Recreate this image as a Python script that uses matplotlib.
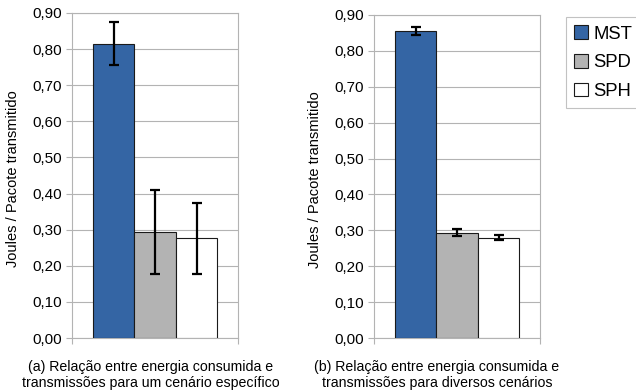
import numpy as np
import matplotlib
matplotlib.use("Agg")
import matplotlib.pyplot as plt
from matplotlib.patches import Patch

plt.rcParams['font.family'] = ['Liberation Sans', 'DejaVu Sans']

methods = ['MST', 'SPD', 'SPH']
colors = ['#3465a4', '#b3b3b3', '#ffffff']

# energia por pacote, cenario especifico
mean_a = [0.815, 0.294, 0.276]
err_a = [0.060, 0.117, 0.099]
# energia por pacote, diversos cenarios
mean_b = [0.855, 0.293, 0.280]
err_b = [0.012, 0.010, 0.006]

yticks = [0.0, 0.1, 0.2, 0.3, 0.4, 0.5, 0.6, 0.7, 0.8, 0.9]
ylabel = 'Joules / Pacote transmitido'
captions = ['(a) Relação entre energia consumida e\ntransmissões para um cenário específico',
            '(b) Relação entre energia consumida e\ntransmissões para diversos cenários']

W, H = 636, 392
fig = plt.figure(figsize=(W / 100, H / 100), dpi=100)
grid = '#b3b3b3'


def draw_panel(ax, means, errs):
    x = np.arange(1, len(means) + 1)
    ax.bar(x, means, width=1.0, color=colors, edgecolor='#1a1a1a', linewidth=0.8, zorder=3)
    ax.errorbar(x, means, yerr=errs, fmt='none', ecolor='black', elinewidth=1.6,
                capsize=3.3, capthick=1.6, zorder=4)
    ax.set_xlim(0, 4)
    ax.set_ylim(0, 0.9)
    ax.set_yticks(yticks)
    ax.yaxis.set_major_formatter(plt.FuncFormatter(lambda v, p: ('%.2f' % v).replace('.', ',')))
    ax.set_xticks([0, 4])
    ax.set_xticklabels([])
    ax.grid(axis='y', color=grid, linewidth=0.8, zorder=0)
    for s in ax.spines.values():
        s.set_color(grid)
        s.set_linewidth(0.8)
    ax.tick_params(axis='y', direction='out', length=4.5, color=grid, labelsize=11, pad=2.5)
    ax.tick_params(axis='x', direction='out', length=4.5, color=grid)
    ax.set_ylabel(ylabel, fontsize=10.5)
    ax.yaxis.set_label_coords(-0.315, 0.49)


ax1 = fig.add_axes([72 / W, 1 - 338 / H, 166 / W, 325 / H])
draw_panel(ax1, mean_a, err_a)
ax2 = fig.add_axes([374 / W, 1 - 338 / H, 166 / W, 323 / H])
draw_panel(ax2, mean_b, err_b)

fig.text(151 / W, 1 - 375 / H, captions[0], ha='center', va='center', fontsize=10.2, linespacing=1.1)
fig.text(437 / W, 1 - 375 / H, captions[1], ha='center', va='center', fontsize=10.2, linespacing=1.1)

handles = [Patch(facecolor=c, edgecolor='#1a1a1a', linewidth=0.8) for c in colors]
leg = fig.legend(handles, methods, loc='upper left', bbox_to_anchor=(566 / W, 1 - 17 / H),
                 fontsize=13.3, frameon=True, fancybox=False, handlelength=0.75, handleheight=0.75,
                 handletextpad=0.3, borderpad=0.45, labelspacing=0.62, borderaxespad=0)
leg.get_frame().set_edgecolor(grid)
leg.get_frame().set_linewidth(0.8)

fig.savefig('out.png', dpi=100)
